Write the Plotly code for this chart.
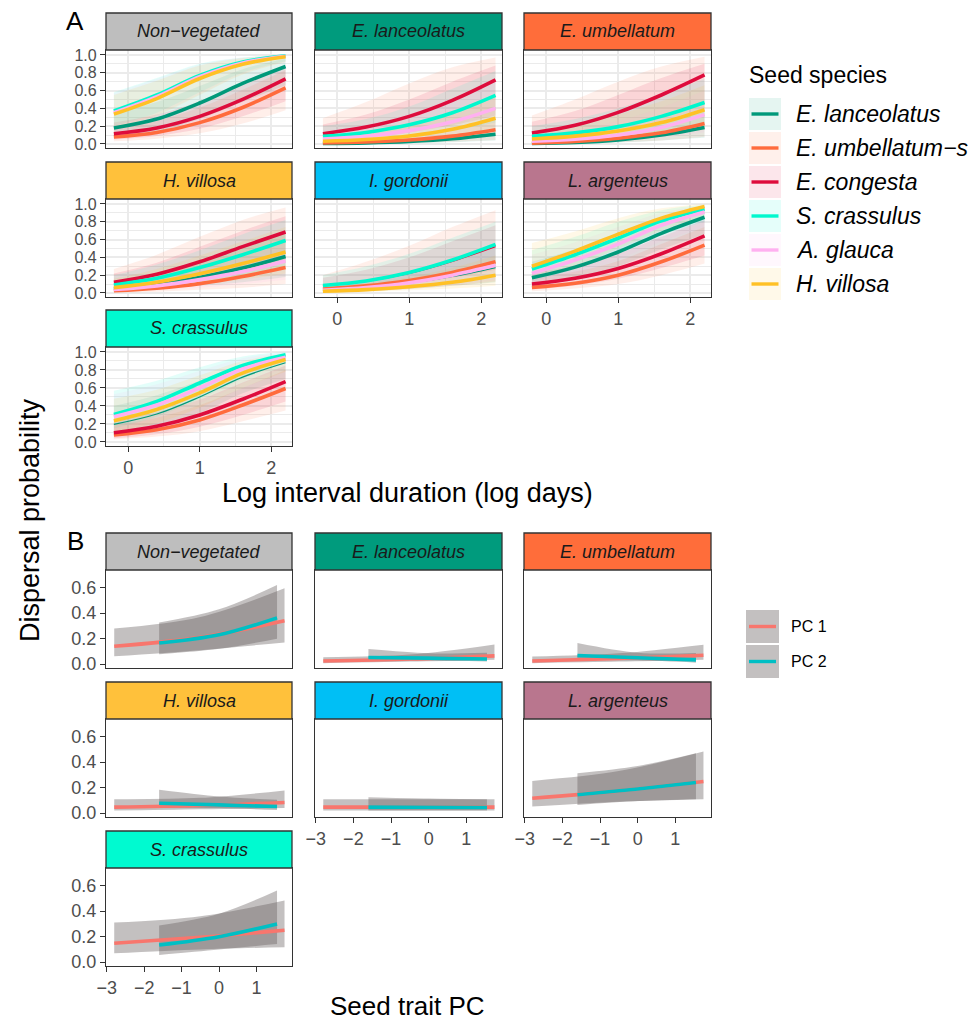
import plotly.graph_objects as go

W, H = 974, 1023
FONT = "Liberation Sans, Arial, sans-serif"

# ======================= DATA : panel A =======================
LOG_DAYS = [-0.2, 0.4, 1.0, 1.6, 2.2]
SEED_SPECIES = ["E. lanceolatus", "E. umbellatum−s", "E. congesta",
                "S. crassulus", "A. glauca", "H. villosa"]
FACETS = ["Non−vegetated", "E. lanceolatus", "E. umbellatum",
          "H. villosa", "I. gordonii", "L. argenteus", "S. crassulus"]

FIT_NONVEG = {
    "E. lanceolatus": [0.18, 0.28, 0.46, 0.68, 0.87],
    "E. umbellatum−s": [0.08, 0.13, 0.24, 0.41, 0.63],
    "E. congesta": [0.115, 0.18, 0.31, 0.50, 0.73],
    "S. crassulus": [0.37, 0.55, 0.77, 0.92, 0.99],
    "A. glauca": [0.35, 0.53, 0.755, 0.91, 0.985],
    "H. villosa": [0.335, 0.51, 0.735, 0.895, 0.98],
}
LOW_NONVEG = {
    "E. lanceolatus": [0.08, 0.14, 0.28, 0.47, 0.66],
    "E. umbellatum−s": [0.03, 0.06, 0.12, 0.23, 0.38],
    "E. congesta": [0.05, 0.09, 0.17, 0.31, 0.48],
    "S. crassulus": [0.20, 0.35, 0.58, 0.80, 0.93],
    "A. glauca": [0.19, 0.33, 0.56, 0.79, 0.92],
    "H. villosa": [0.18, 0.32, 0.55, 0.78, 0.92],
}
HIGH_NONVEG = {
    "E. lanceolatus": [0.35, 0.47, 0.65, 0.84, 0.96],
    "E. umbellatum−s": [0.18, 0.26, 0.41, 0.61, 0.83],
    "E. congesta": [0.24, 0.33, 0.48, 0.69, 0.88],
    "S. crassulus": [0.58, 0.74, 0.90, 0.97, 1.0],
    "A. glauca": [0.57, 0.73, 0.89, 0.97, 1.0],
    "H. villosa": [0.55, 0.71, 0.88, 0.965, 1.0],
}

FIT_ELAN = {
    "E. lanceolatus": [0.005, 0.012, 0.028, 0.058, 0.11],
    "E. umbellatum−s": [0.011, 0.022, 0.045, 0.088, 0.16],
    "E. congesta": [0.115, 0.19, 0.31, 0.49, 0.72],
    "S. crassulus": [0.086, 0.13, 0.215, 0.35, 0.545],
    "A. glauca": [0.056, 0.086, 0.15, 0.25, 0.40],
    "H. villosa": [0.03, 0.05, 0.09, 0.165, 0.29],
}
LOW_ELAN = {
    "E. lanceolatus": [0.001, 0.003, 0.008, 0.02, 0.04],
    "E. umbellatum−s": [0.002, 0.005, 0.012, 0.025, 0.045],
    "E. congesta": [0.04, 0.07, 0.13, 0.21, 0.32],
    "S. crassulus": [0.03, 0.05, 0.09, 0.15, 0.24],
    "A. glauca": [0.02, 0.03, 0.06, 0.10, 0.16],
    "H. villosa": [0.01, 0.02, 0.035, 0.06, 0.10],
}
HIGH_ELAN = {
    "E. lanceolatus": [0.03, 0.05, 0.09, 0.16, 0.28],
    "E. umbellatum−s": [0.29, 0.47, 0.68, 0.86, 0.97],
    "E. congesta": [0.22, 0.33, 0.50, 0.70, 0.88],
    "S. crassulus": [0.20, 0.28, 0.42, 0.62, 0.82],
    "A. glauca": [0.15, 0.22, 0.34, 0.51, 0.70],
    "H. villosa": [0.10, 0.14, 0.22, 0.36, 0.55],
}

FIT_EUMB = {
    "E. lanceolatus": [0.005, 0.016, 0.045, 0.10, 0.185],
    "E. umbellatum−s": [0.01, 0.028, 0.065, 0.125, 0.23],
    "E. congesta": [0.123, 0.21, 0.355, 0.55, 0.775],
    "S. crassulus": [0.086, 0.125, 0.195, 0.31, 0.466],
    "A. glauca": [0.03, 0.053, 0.10, 0.185, 0.33],
    "H. villosa": [0.056, 0.088, 0.145, 0.24, 0.385],
}
LOW_EUMB = {
    "E. lanceolatus": [0.001, 0.005, 0.016, 0.04, 0.07],
    "E. umbellatum−s": [0.002, 0.007, 0.02, 0.04, 0.08],
    "E. congesta": [0.04, 0.08, 0.15, 0.26, 0.40],
    "S. crassulus": [0.03, 0.05, 0.085, 0.14, 0.20],
    "A. glauca": [0.01, 0.02, 0.04, 0.075, 0.13],
    "H. villosa": [0.02, 0.032, 0.06, 0.10, 0.16],
}
HIGH_EUMB = {
    "E. lanceolatus": [0.03, 0.055, 0.12, 0.23, 0.38],
    "E. umbellatum−s": [0.32, 0.50, 0.70, 0.87, 0.98],
    "E. congesta": [0.25, 0.37, 0.55, 0.74, 0.90],
    "S. crassulus": [0.20, 0.28, 0.40, 0.56, 0.73],
    "A. glauca": [0.10, 0.16, 0.26, 0.41, 0.60],
    "H. villosa": [0.15, 0.22, 0.33, 0.48, 0.66],
}

FIT_HVIL = {
    "E. lanceolatus": [0.045, 0.095, 0.175, 0.28, 0.41],
    "E. umbellatum−s": [0.025, 0.055, 0.105, 0.185, 0.285],
    "E. congesta": [0.12, 0.21, 0.35, 0.52, 0.685],
    "S. crassulus": [0.09, 0.165, 0.285, 0.43, 0.59],
    "A. glauca": [0.04, 0.08, 0.15, 0.24, 0.36],
    "H. villosa": [0.06, 0.12, 0.215, 0.33, 0.46],
}
LOW_HVIL = {
    "E. lanceolatus": [0.015, 0.04, 0.08, 0.12, 0.18],
    "E. umbellatum−s": [0.005, 0.015, 0.035, 0.06, 0.10],
    "E. congesta": [0.04, 0.085, 0.16, 0.26, 0.38],
    "S. crassulus": [0.03, 0.065, 0.13, 0.20, 0.30],
    "A. glauca": [0.012, 0.03, 0.06, 0.10, 0.15],
    "H. villosa": [0.02, 0.05, 0.10, 0.15, 0.22],
}
HIGH_HVIL = {
    "E. lanceolatus": [0.13, 0.22, 0.36, 0.53, 0.70],
    "E. umbellatum−s": [0.27, 0.43, 0.63, 0.82, 0.96],
    "E. congesta": [0.22, 0.34, 0.52, 0.70, 0.86],
    "S. crassulus": [0.20, 0.32, 0.48, 0.66, 0.82],
    "A. glauca": [0.12, 0.19, 0.31, 0.46, 0.63],
    "H. villosa": [0.16, 0.27, 0.42, 0.58, 0.74],
}

FIT_IGOR = {
    "E. lanceolatus": [0.028, 0.055, 0.11, 0.185, 0.285],
    "E. umbellatum−s": [0.045, 0.08, 0.14, 0.23, 0.35],
    "E. congesta": [0.08, 0.13, 0.22, 0.355, 0.52],
    "S. crassulus": [0.085, 0.135, 0.23, 0.37, 0.545],
    "A. glauca": [0.03, 0.06, 0.115, 0.20, 0.31],
    "H. villosa": [0.02, 0.038, 0.07, 0.12, 0.20],
}
LOW_IGOR = {
    "E. lanceolatus": [0.008, 0.02, 0.045, 0.08, 0.12],
    "E. umbellatum−s": [0.01, 0.02, 0.045, 0.08, 0.13],
    "E. congesta": [0.03, 0.05, 0.10, 0.17, 0.26],
    "S. crassulus": [0.03, 0.06, 0.11, 0.19, 0.28],
    "A. glauca": [0.01, 0.02, 0.05, 0.09, 0.14],
    "H. villosa": [0.005, 0.012, 0.03, 0.05, 0.08],
}
HIGH_IGOR = {
    "E. lanceolatus": [0.09, 0.15, 0.24, 0.37, 0.54],
    "E. umbellatum−s": [0.20, 0.35, 0.53, 0.74, 0.93],
    "E. congesta": [0.17, 0.26, 0.40, 0.58, 0.76],
    "S. crassulus": [0.20, 0.30, 0.44, 0.62, 0.80],
    "A. glauca": [0.10, 0.16, 0.26, 0.40, 0.57],
    "H. villosa": [0.07, 0.11, 0.18, 0.28, 0.42],
}

FIT_LARG = {
    "E. lanceolatus": [0.17, 0.29, 0.46, 0.67, 0.85],
    "E. umbellatum−s": [0.063, 0.11, 0.20, 0.35, 0.537],
    "E. congesta": [0.10, 0.165, 0.275, 0.44, 0.64],
    "S. crassulus": [0.27, 0.43, 0.615, 0.81, 0.944],
    "A. glauca": [0.22, 0.37, 0.55, 0.76, 0.91],
    "H. villosa": [0.30, 0.47, 0.66, 0.84, 0.97],
}
LOW_LARG = {
    "E. lanceolatus": [0.07, 0.16, 0.30, 0.49, 0.66],
    "E. umbellatum−s": [0.02, 0.05, 0.10, 0.20, 0.33],
    "E. congesta": [0.04, 0.085, 0.16, 0.28, 0.42],
    "S. crassulus": [0.13, 0.27, 0.45, 0.65, 0.80],
    "A. glauca": [0.10, 0.22, 0.38, 0.58, 0.74],
    "H. villosa": [0.15, 0.30, 0.50, 0.70, 0.85],
}
HIGH_LARG = {
    "E. lanceolatus": [0.35, 0.49, 0.66, 0.83, 0.95],
    "E. umbellatum−s": [0.16, 0.24, 0.36, 0.55, 0.74],
    "E. congesta": [0.22, 0.31, 0.44, 0.63, 0.82],
    "S. crassulus": [0.48, 0.63, 0.80, 0.93, 0.99],
    "A. glauca": [0.43, 0.57, 0.74, 0.90, 0.98],
    "H. villosa": [0.56, 0.69, 0.84, 0.95, 1.0],
}

FIT_SCRA = {
    "E. lanceolatus": [0.195, 0.31, 0.50, 0.72, 0.88],
    "E. umbellatum−s": [0.077, 0.135, 0.245, 0.41, 0.594],
    "E. congesta": [0.103, 0.175, 0.30, 0.475, 0.67],
    "S. crassulus": [0.306, 0.45, 0.655, 0.85, 0.97],
    "A. glauca": [0.28, 0.41, 0.60, 0.81, 0.94],
    "H. villosa": [0.236, 0.36, 0.545, 0.765, 0.915],
}
LOW_SCRA = {
    "E. lanceolatus": [0.08, 0.16, 0.32, 0.54, 0.70],
    "E. umbellatum−s": [0.03, 0.06, 0.12, 0.23, 0.35],
    "E. congesta": [0.04, 0.085, 0.17, 0.30, 0.45],
    "S. crassulus": [0.15, 0.28, 0.48, 0.70, 0.88],
    "A. glauca": [0.13, 0.25, 0.43, 0.65, 0.82],
    "H. villosa": [0.11, 0.21, 0.38, 0.60, 0.78],
}
HIGH_SCRA = {
    "E. lanceolatus": [0.40, 0.52, 0.68, 0.86, 0.96],
    "E. umbellatum−s": [0.19, 0.27, 0.41, 0.60, 0.80],
    "E. congesta": [0.24, 0.33, 0.47, 0.66, 0.85],
    "S. crassulus": [0.57, 0.68, 0.83, 0.95, 1.0],
    "A. glauca": [0.53, 0.64, 0.79, 0.93, 0.99],
    "H. villosa": [0.48, 0.58, 0.74, 0.90, 0.98],
}

# ======================= DATA : panel B =======================
PC1_X = [-2.8, -0.5, 1.75]
PC2_X = [-1.6, 0.0, 1.55]

PC1_FIT = {
    "Non−vegetated": [0.14, 0.21, 0.34],
    "E. lanceolatus": [0.025, 0.04, 0.065],
    "E. umbellatum": [0.025, 0.045, 0.07],
    "H. villosa": [0.047, 0.06, 0.084],
    "I. gordonii": [0.047, 0.047, 0.047],
    "L. argenteus": [0.117, 0.175, 0.248],
    "S. crassulus": [0.148, 0.195, 0.25],
}
PC1_LOW = {
    "Non−vegetated": [0.062, 0.11, 0.17],
    "E. lanceolatus": [0.008, 0.02, 0.035],
    "E. umbellatum": [0.008, 0.02, 0.035],
    "H. villosa": [0.02, 0.03, 0.04],
    "I. gordonii": [0.02, 0.02, 0.02],
    "L. argenteus": [0.052, 0.09, 0.11],
    "S. crassulus": [0.07, 0.10, 0.117],
}
PC1_HIGH = {
    "Non−vegetated": [0.28, 0.37, 0.595],
    "E. lanceolatus": [0.055, 0.075, 0.155],
    "E. umbellatum": [0.06, 0.085, 0.153],
    "H. villosa": [0.11, 0.12, 0.178],
    "I. gordonii": [0.11, 0.11, 0.11],
    "L. argenteus": [0.253, 0.33, 0.483],
    "S. crassulus": [0.31, 0.36, 0.484],
}
PC2_FIT = {
    "Non−vegetated": [0.166, 0.23, 0.363],
    "E. lanceolatus": [0.052, 0.047, 0.04],
    "E. umbellatum": [0.068, 0.05, 0.034],
    "H. villosa": [0.078, 0.065, 0.052],
    "I. gordonii": [0.047, 0.046, 0.045],
    "L. argenteus": [0.144, 0.19, 0.24],
    "S. crassulus": [0.135, 0.20, 0.30],
}
PC2_LOW = {
    "Non−vegetated": [0.078, 0.12, 0.20],
    "E. lanceolatus": [0.03, 0.03, 0.02],
    "E. umbellatum": [0.035, 0.03, 0.012],
    "H. villosa": [0.045, 0.04, 0.025],
    "I. gordonii": [0.02, 0.02, 0.02],
    "L. argenteus": [0.065, 0.095, 0.11],
    "S. crassulus": [0.057, 0.10, 0.142],
}
PC2_HIGH = {
    "Non−vegetated": [0.326, 0.43, 0.62],
    "E. lanceolatus": [0.118, 0.085, 0.09],
    "E. umbellatum": [0.166, 0.09, 0.087],
    "H. villosa": [0.183, 0.13, 0.105],
    "I. gordonii": [0.125, 0.115, 0.11],
    "L. argenteus": [0.313, 0.37, 0.47],
    "S. crassulus": [0.288, 0.38, 0.562],
}

A_TICKS_X = [0, 1, 2]
A_TICKS_Y = [0.0, 0.2, 0.4, 0.6, 0.8, 1.0]
B_TICKS_X = [-3, -2, -1, 0, 1]
B_TICKS_Y = [0.0, 0.2, 0.4, 0.6]

# ======================= STYLE =======================
SPECIES_COLORS = {
    "E. lanceolatus": (0, 153, 122),
    "E. umbellatum−s": (255, 107, 61),
    "E. congesta": (222, 12, 60),
    "S. crassulus": (0, 248, 205),
    "A. glauca": (255, 176, 240),
    "H. villosa": (255, 193, 37),
}
FACET_COLORS = {
    "Non−vegetated": "#BEBEBE",
    "E. lanceolatus": "#009B7D",
    "E. umbellatum": "#FF6D3A",
    "H. villosa": "#FFC13B",
    "I. gordonii": "#00BFF5",
    "L. argenteus": "#B9768E",
    "S. crassulus": "#00FAD0",
}
THIN = {("I. gordonii", "E. congesta"), ("I. gordonii", "E. lanceolatus"),
        ("S. crassulus", "E. lanceolatus")}
PC1_COLOR = "#F8766D"
PC2_COLOR = "#00BFC4"
PC_RIBBON = "rgba(98,90,90,0.38)"

A_SETS = {
    "Non−vegetated": (FIT_NONVEG, LOW_NONVEG, HIGH_NONVEG),
    "E. lanceolatus": (FIT_ELAN, LOW_ELAN, HIGH_ELAN),
    "E. umbellatum": (FIT_EUMB, LOW_EUMB, HIGH_EUMB),
    "H. villosa": (FIT_HVIL, LOW_HVIL, HIGH_HVIL),
    "I. gordonii": (FIT_IGOR, LOW_IGOR, HIGH_IGOR),
    "L. argenteus": (FIT_LARG, LOW_LARG, HIGH_LARG),
    "S. crassulus": (FIT_SCRA, LOW_SCRA, HIGH_SCRA),
}

COLS = [(106, 292), (315, 502), (524, 711)]
A_ROWS = [(50, 148), (199, 297), (347, 446)]
B_ROWS = [(570, 668), (719, 817), (868, 966)]
STRIP_H = 37
BORDER = "#333333"
TICKFONT = dict(family=FONT, size=18, color="#4D4D4D")
TICKFONT_A_Y = dict(family=FONT, size=16, color="#4D4D4D")


def px(x):
    return x / W


def py(y):
    return 1 - y / H


def rgba(c, a):
    return "rgba(%d,%d,%d,%.3f)" % (c[0], c[1], c[2], a)


fig = go.Figure()
shapes, annotations = [], []
layout = {}


def axis_names(i):
    return ("xaxis" if i == 1 else "xaxis%d" % i,
            "yaxis" if i == 1 else "yaxis%d" % i,
            "x" if i == 1 else "x%d" % i,
            "y" if i == 1 else "y%d" % i)


BOTTOM = {6, 4, 5}

for panel in ("A", "B"):
    rows = A_ROWS if panel == "A" else B_ROWS
    for k, facet in enumerate(FACETS):
        i = k + 1 if panel == "A" else k + 8
        xa, ya, xr, yr = axis_names(i)
        r, c = k // 3, k % 3
        x0, x1 = COLS[c]
        t, b = rows[r]
        is_bottom = k in BOTTOM
        is_left = c == 0
        if panel == "A":
            layout[xa] = dict(
                domain=[px(x0), px(x1)], anchor=yr, range=[-0.31, 2.29],
                tickvals=A_TICKS_X, ticktext=[str(v) for v in A_TICKS_X],
                showgrid=True, gridcolor="#EBEBEB", gridwidth=2,
                minor=dict(tickvals=[0.5, 1.5], showgrid=True,
                           gridcolor="#EBEBEB", gridwidth=1.4),
                zeroline=False, showline=True, mirror=True,
                linecolor=BORDER, linewidth=1.3, automargin=False,
                ticks="outside" if is_bottom else "", ticklen=5,
                tickcolor=BORDER, tickwidth=1.2,
                showticklabels=is_bottom, tickfont=TICKFONT)
            layout[ya] = dict(
                domain=[py(b), py(t)], anchor=xr, range=[-0.045, 1.055],
                tickvals=A_TICKS_Y, ticktext=["%.1f" % v for v in A_TICKS_Y],
                showgrid=True, gridcolor="#EBEBEB", gridwidth=2,
                minor=dict(tickvals=[0.1, 0.3, 0.5, 0.7, 0.9], showgrid=True,
                           gridcolor="#EBEBEB", gridwidth=1.4),
                zeroline=False, showline=True, mirror=True,
                linecolor=BORDER, linewidth=1.3, automargin=False,
                ticks="outside" if is_left else "", ticklen=5,
                tickcolor=BORDER, tickwidth=1.2,
                showticklabels=is_left, tickfont=TICKFONT_A_Y)
            fit, low, high = A_SETS[facet]
            for sp in SEED_SPECIES:
                col = SPECIES_COLORS[sp]
                fig.add_trace(go.Scatter(
                    x=LOG_DAYS, y=low[sp], xaxis=xr, yaxis=yr, mode="lines",
                    line=dict(width=0, shape="spline", color=rgba(col, 0)),
                    showlegend=False, hoverinfo="skip"))
                fig.add_trace(go.Scatter(
                    x=LOG_DAYS, y=high[sp], xaxis=xr, yaxis=yr, mode="lines",
                    line=dict(width=0, shape="spline", color=rgba(col, 0)),
                    fill="tonexty", fillcolor=rgba(col, 0.11),
                    showlegend=False, hoverinfo="skip"))
            for sp in SEED_SPECIES:
                col = SPECIES_COLORS[sp]
                wdt = 1.2 if (facet, sp) in THIN else 3.6
                fig.add_trace(go.Scatter(
                    x=LOG_DAYS, y=fit[sp], xaxis=xr, yaxis=yr, mode="lines",
                    line=dict(width=wdt, shape="spline", color=rgba(col, 1)),
                    showlegend=False, name=sp))
        else:
            layout[xa] = dict(
                domain=[px(x0), px(x1)], anchor=yr, range=[-3.02, 1.95],
                tickvals=B_TICKS_X,
                ticktext=[("−%d" % -v) if v < 0 else str(v) for v in B_TICKS_X],
                showgrid=False, zeroline=False, showline=True, mirror=True,
                linecolor=BORDER, linewidth=1.3, automargin=False,
                ticks="outside" if is_bottom else "", ticklen=5,
                tickcolor=BORDER, tickwidth=1.2,
                showticklabels=is_bottom, tickfont=TICKFONT)
            layout[ya] = dict(
                domain=[py(b), py(t)], anchor=xr, range=[-0.03, 0.738],
                tickvals=B_TICKS_Y, ticktext=["%.1f" % v for v in B_TICKS_Y],
                showgrid=False, zeroline=False, showline=True, mirror=True,
                linecolor=BORDER, linewidth=1.3, automargin=False,
                ticks="outside" if is_left else "", ticklen=5,
                tickcolor=BORDER, tickwidth=1.2,
                showticklabels=is_left, tickfont=TICKFONT)
            for xs, lo, hi in ((PC1_X, PC1_LOW, PC1_HIGH), (PC2_X, PC2_LOW, PC2_HIGH)):
                fig.add_trace(go.Scatter(
                    x=xs, y=lo[facet], xaxis=xr, yaxis=yr, mode="lines",
                    line=dict(width=0, shape="spline", color="rgba(0,0,0,0)"),
                    showlegend=False, hoverinfo="skip"))
                fig.add_trace(go.Scatter(
                    x=xs, y=hi[facet], xaxis=xr, yaxis=yr, mode="lines",
                    line=dict(width=0, shape="spline", color="rgba(0,0,0,0)"),
                    fill="tonexty", fillcolor=PC_RIBBON,
                    showlegend=False, hoverinfo="skip"))
            for xs, ft, colr in ((PC1_X, PC1_FIT, PC1_COLOR), (PC2_X, PC2_FIT, PC2_COLOR)):
                fig.add_trace(go.Scatter(
                    x=xs, y=ft[facet], xaxis=xr, yaxis=yr, mode="lines",
                    line=dict(width=3.6, shape="spline", color=colr),
                    showlegend=False))
        # strip
        shapes.append(dict(type="rect", xref="paper", yref="paper",
                           x0=px(x0), x1=px(x1), y0=py(t), y1=py(t - STRIP_H),
                           fillcolor=FACET_COLORS[facet],
                           line=dict(color=BORDER, width=1.3), layer="above"))
        annotations.append(dict(xref="paper", yref="paper",
                                x=px((x0 + x1) / 2), y=py(t - STRIP_H / 2),
                                text="<i>%s</i>" % facet, showarrow=False,
                                xanchor="center", yanchor="middle",
                                font=dict(family=FONT, size=18, color="#1A1A1A")))

# ---------- legend A ----------
annotations.append(dict(xref="paper", yref="paper", x=px(747), y=py(75),
                        text="Seed species", showarrow=False, xanchor="left",
                        yanchor="middle", font=dict(family=FONT, size=23, color="black")))
for j, sp in enumerate(SEED_SPECIES):
    top = 98 + 34 * j
    col = SPECIES_COLORS[sp]
    shapes.append(dict(type="rect", xref="paper", yref="paper",
                       x0=px(749), x1=px(781), y0=py(top + 32), y1=py(top),
                       fillcolor=rgba(col, 0.1), line=dict(width=0)))
    shapes.append(dict(type="line", xref="paper", yref="paper",
                       x0=px(751.5), x1=px(778.5), y0=py(top + 16), y1=py(top + 16),
                       line=dict(color=rgba(col, 1), width=3.4)))
    annotations.append(dict(xref="paper", yref="paper", x=px(794), y=py(top + 16),
                            text="<i>%s</i>" % sp, showarrow=False, xanchor="left",
                            yanchor="middle", font=dict(family=FONT, size=23, color="black")))

# ---------- legend B ----------
for j, (lab, colr) in enumerate((("PC 1", PC1_COLOR), ("PC 2", PC2_COLOR))):
    top = 610 + 35 * j
    shapes.append(dict(type="rect", xref="paper", yref="paper",
                       x0=px(746), x1=px(779), y0=py(top + 33), y1=py(top),
                       fillcolor=PC_RIBBON, line=dict(width=0)))
    shapes.append(dict(type="line", xref="paper", yref="paper",
                       x0=px(749), x1=px(776), y0=py(top + 16.5), y1=py(top + 16.5),
                       line=dict(color=colr, width=3.4)))
    annotations.append(dict(xref="paper", yref="paper", x=px(789), y=py(top + 16.5),
                            text=lab, showarrow=False, xanchor="left", yanchor="middle",
                            font=dict(family=FONT, size=16, color="black")))

# ---------- titles ----------
annotations += [
    dict(xref="paper", yref="paper", x=px(407), y=py(493),
         text="Log interval duration (log days)", showarrow=False,
         xanchor="center", yanchor="middle", font=dict(family=FONT, size=27, color="black")),
    dict(xref="paper", yref="paper", x=px(407), y=py(1006),
         text="Seed trait PC", showarrow=False,
         xanchor="center", yanchor="middle", font=dict(family=FONT, size=26, color="black")),
    dict(xref="paper", yref="paper", x=px(30), y=py(520),
         text="Dispersal probability", showarrow=False, textangle=-90,
         xanchor="center", yanchor="middle", font=dict(family=FONT, size=27, color="black")),
    dict(xref="paper", yref="paper", x=px(75), y=py(21), text="A", showarrow=False,
         xanchor="center", yanchor="middle", font=dict(family=FONT, size=26, color="black")),
    dict(xref="paper", yref="paper", x=px(75), y=py(541), text="B", showarrow=False,
         xanchor="center", yanchor="middle", font=dict(family=FONT, size=26, color="black")),
]

fig.update_layout(**layout)
fig.update_layout(width=W, height=H, margin=dict(l=0, r=0, t=0, b=0, autoexpand=False),
                  paper_bgcolor="white", plot_bgcolor="white",
                  showlegend=False, shapes=shapes, annotations=annotations,
                  font=dict(family=FONT))
fig.write_html("out.html",
               config={"displayModeBar": False},
               post_script="document.body.style.margin='0';"
                           "document.body.style.overflow='hidden';")
